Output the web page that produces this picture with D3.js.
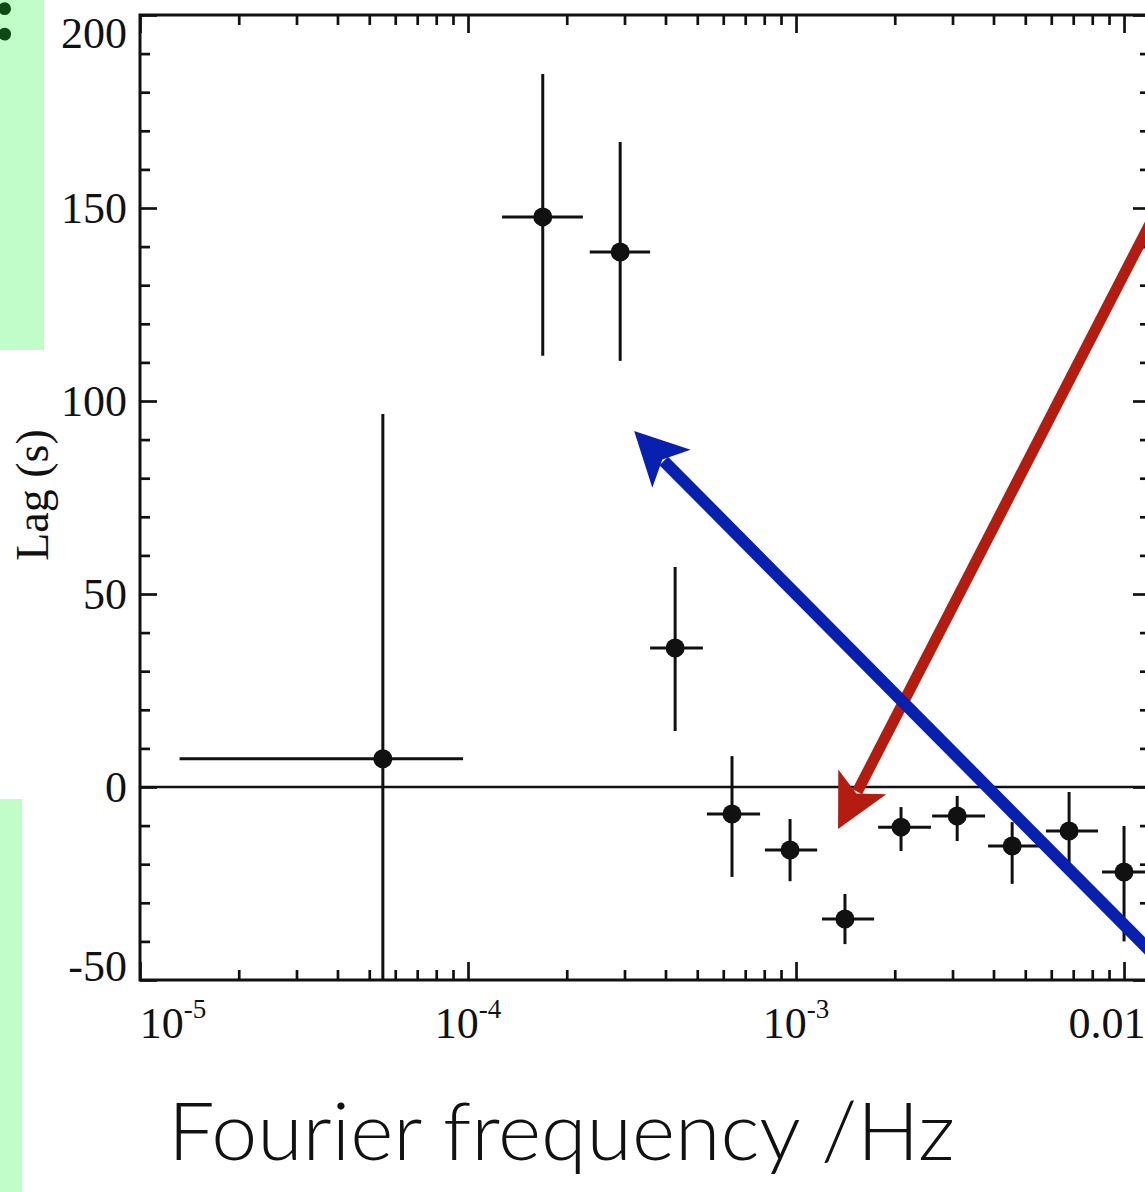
<!DOCTYPE html>
<html>
<head>
<meta charset="utf-8">
<script src="https://cdn.jsdelivr.net/npm/d3@7"></script>
<style>
  body { margin: 0; background: #fff; overflow: hidden; }
  svg { display: block; }
  .serif { font-family: "Liberation Serif", "Times New Roman", serif; fill: #111; }
</style>
</head>
<body>
<script>
// lag-frequency spectrum, values
const freq    = [5.5e-5, 1.69e-4, 2.91e-4, 4.28e-4, 6.38e-4, 9.59e-4, 1.41e-3, 2.09e-3, 3.10e-3, 4.56e-3, 6.8e-3, 1.0e-2];
const freqLo  = [1.32e-5, 1.27e-4, 2.35e-4, 3.59e-4, 5.35e-4, 8.04e-4, 1.2e-3, 1.78e-3, 2.6e-3, 3.85e-3, 5.78e-3, 8.57e-3];
const freqHi  = [9.66e-5, 2.24e-4, 3.59e-4, 5.2e-4, 7.77e-4, 1.16e-3, 1.73e-3, 2.58e-3, 3.77e-3, 5.54e-3, 8.33e-3, 1.17e-2];
const lag     = [7.3, 147.7, 138.6, 36.0, -7.0, -16.3, -34.2, -10.4, -7.5, -15.3, -11.4, -22.0];
const lagLo   = [-82, 111.7, 110.4, 14.5, -23.3, -24.4, -40.7, -16.6, -14.0, -25.1, -19.5, -40];
const lagHi   = [96.6, 184.7, 167.1, 57.0, 8.0, -8.3, -27.7, -5.2, -2.3, -9.1, -1.3, -10.1];

const xMajor  = [1e-5, 1e-4, 1e-3, 1e-2];
const xLabels = [["10", "-5"], ["10", "-4"], ["10", "-3"], ["0.01", ""]];
const yMajor  = [-50, 0, 50, 100, 150, 200];
const yLabels = ["-50", "0", "50", "100", "150", "200"];

// annotation arrows, in data units: [tail, tip]
const redArrow  = [[0.01288, 151.0], [1.343e-3, -10.9]];
const blueArrow = [[0.01288, -45.1], [3.21e-4, 92.2]];

const W = 1145, H = 1192;
const L = 140, R = 1150, T = 15, B = 980;

const svg = d3.select('body').append('svg').attr('width', W).attr('height', H);
svg.append('rect').attr('width', W).attr('height', H).attr('fill', '#fff');

// green slide panels at the left
svg.append('rect').attr('x', 0).attr('y', 0).attr('width', 44).attr('height', 350).attr('fill', '#c0fdc8');
svg.append('rect').attr('x', 0).attr('y', 799).attr('width', 22).attr('height', H - 799).attr('fill', '#c0fdc8');
svg.append('text').attr('x', -8).attr('y', 40)
    .style('font-family', '"Liberation Serif", serif').style('font-weight', 'bold')
    .style('font-size', '78px').attr('fill', '#0c4a14').text(':');

let x = d3.scaleLog().domain([1e-5, 0.012]).range([L, R]);
let y = d3.scaleLinear().domain([-50, 200]).range([B, T]);

let xMinor = [];
[1e-5, 1e-4, 1e-3, 1e-2].forEach((d) => {
    for (let k = 2; k <= 9; k++) {
        if (d * k <= 0.012) xMinor.push(d * k);
    }
});
let yMinor = d3.range(-50, 201, 10).filter((v) => !yMajor.includes(v));

function ticks(axisFn, scale, values, size, tx, ty) {
    let g = svg.append('g').attr('transform', `translate(${tx},${ty})`)
        .call(axisFn(scale).tickValues(values).tickSizeInner(size).tickSizeOuter(0).tickFormat(''));
    g.select('.domain').remove();
    g.selectAll('text').remove();
    g.selectAll('line').attr('stroke', '#111').attr('stroke-width', 2.7);
}

ticks(d3.axisBottom, x, xMinor, -10, 0, B);
ticks(d3.axisBottom, x, xMajor, -18, 0, B);
ticks(d3.axisTop, x, xMinor, -10, 0, T);
ticks(d3.axisTop, x, xMajor, -18, 0, T);
ticks(d3.axisLeft, y, yMinor, -10, L, 0);
ticks(d3.axisLeft, y, yMajor, -17, L, 0);
ticks(d3.axisRight, y, yMinor, -10, R, 0);
ticks(d3.axisRight, y, yMajor, -17, R, 0);

svg.append('rect').attr('x', L).attr('y', T).attr('width', R - L).attr('height', B - T)
    .attr('fill', 'none').attr('stroke', '#111').attr('stroke-width', 3);

// tick labels (end labels nudged inward as in the original)
yMajor.forEach((v, i) => {
    let cy = Math.min(Math.max(y(v), 33), 966);
    svg.append('text').attr('class', 'serif')
        .attr('x', 127).attr('y', cy + 15)
        .attr('text-anchor', 'end').style('font-size', '44px')
        .text(yLabels[i]);
});

xMajor.forEach((v, i) => {
    let cx = Math.min(Math.max(x(v), 173), 1107);
    let t = svg.append('text').attr('class', 'serif')
        .attr('x', cx).attr('y', 1038)
        .attr('text-anchor', 'middle').style('font-size', '44px');
    t.append('tspan').text(xLabels[i][0]);
    if (xLabels[i][1]) {
        t.append('tspan').attr('dy', -20).style('font-size', '27px').text(xLabels[i][1]);
    }
});

svg.append('text').attr('class', 'serif')
    .attr('transform', 'translate(48,495) rotate(-90)')
    .attr('text-anchor', 'middle').style('font-size', '46px')
    .text('Lag (s)');

svg.append('text')
    .attr('x', 168).attr('y', 1160)
    .attr('textLength', 787).attr('lengthAdjust', 'spacingAndGlyphs')
    .style('font-family', 'Lato, "Open Sans", sans-serif').style('font-weight', 300)
    .style('font-size', '80px').attr('fill', '#111')
    .text('Fourier frequency /Hz');

// data
svg.append('clipPath').attr('id', 'plot')
    .append('rect').attr('x', L).attr('y', T).attr('width', R - L).attr('height', B - T);
let plot = svg.append('g').attr('clip-path', 'url(#plot)');

plot.append('line')
    .attr('x1', L).attr('x2', R).attr('y1', y(0)).attr('y2', y(0))
    .attr('stroke', '#111').attr('stroke-width', 2.6);

freq.forEach((f, i) => {
    plot.append('line')
        .attr('x1', x(freqLo[i])).attr('x2', x(freqHi[i]))
        .attr('y1', y(lag[i])).attr('y2', y(lag[i]))
        .attr('stroke', '#111').attr('stroke-width', 3);
    plot.append('line')
        .attr('x1', x(f)).attr('x2', x(f))
        .attr('y1', y(lagLo[i])).attr('y2', y(lagHi[i]))
        .attr('stroke', '#111').attr('stroke-width', 3);
    plot.append('circle')
        .attr('cx', x(f)).attr('cy', y(lag[i])).attr('r', 9.5)
        .attr('fill', '#111');
});

// arrows
function arrow(pts, color, width) {
    let [x0, y0] = [x(pts[0][0]), y(pts[0][1])];
    let [x1, y1] = [x(pts[1][0]), y(pts[1][1])];
    let len = Math.hypot(x1 - x0, y1 - y0);
    let ux = (x1 - x0) / len, uy = (y1 - y0) / len;
    let nx = -uy, ny = ux;
    let headL = 53, headW = 27, notch = 40;
    svg.append('line')
        .attr('x1', x0).attr('y1', y0)
        .attr('x2', x1 - ux * (notch + 2)).attr('y2', y1 - uy * (notch + 2))
        .attr('stroke', color).attr('stroke-width', width);
    let bx = x1 - ux * headL, by = y1 - uy * headL;
    let head = [
        [x1, y1],
        [bx + nx * headW, by + ny * headW],
        [x1 - ux * notch, y1 - uy * notch],
        [bx - nx * headW, by - ny * headW]
    ];
    svg.append('path').attr('d', d3.line()(head) + 'Z').attr('fill', color);
}

arrow(redArrow, '#b41c10', 11);
arrow(blueArrow, '#0820b0', 12);
</script>
</body>
</html>
